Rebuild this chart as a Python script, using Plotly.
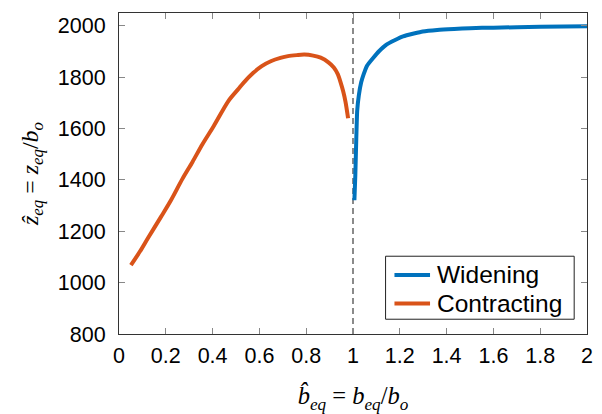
import plotly.graph_objects as go

# Contracting branch
contr_x = [0.051, 0.09, 0.124, 0.18, 0.222, 0.271, 0.314, 0.356, 0.405, 0.468,
           0.511, 0.532, 0.574, 0.61, 0.651, 0.69, 0.722, 0.76, 0.792, 0.83, 0.862,
           0.895, 0.918, 0.935, 0.947, 0.958, 0.968, 0.979]
contr_y = [1068, 1122, 1174, 1257, 1321, 1404, 1470, 1538, 1610, 1708,
           1755, 1778, 1817, 1843, 1863, 1875, 1882, 1886, 1888, 1884, 1876,
           1858, 1838, 1812, 1780, 1745, 1704, 1640]

# Widening branch
wide_x = [1.006, 1.010, 1.014, 1.018, 1.025, 1.035, 1.045, 1.06, 1.087, 1.11,
          1.143, 1.18, 1.214, 1.26, 1.298, 1.36, 1.432, 1.5, 1.6, 1.8, 2.0]
wide_y = [1321, 1420, 1560, 1670, 1730, 1780, 1810, 1845, 1876, 1900,
          1927, 1945, 1959, 1970, 1978, 1984, 1988, 1991, 1993, 1996, 1998]

x_ticks = [0, 0.2, 0.4, 0.6, 0.8, 1, 1.2, 1.4, 1.6, 1.8, 2]
x_ticklabels = ["0", "0.2", "0.4", "0.6", "0.8", "1", "1.2", "1.4", "1.6", "1.8", "2"]
y_ticks = [800, 1000, 1200, 1400, 1600, 1800, 2000]

series_names = ["Widening", "Contracting"]
series_colors = ["#0072BD", "#D95319"]

fig = go.Figure()
fig.add_trace(go.Scatter(x=wide_x, y=wide_y, mode="lines", name=series_names[0],
                         line=dict(color=series_colors[0], width=4, shape="spline", smoothing=0.5)))
fig.add_trace(go.Scatter(x=contr_x, y=contr_y, mode="lines", name=series_names[1],
                         line=dict(color=series_colors[1], width=4, shape="spline", smoothing=0.8)))

fig.add_shape(type="line", x0=1, x1=1, y0=0, y1=1, xref="x", yref="paper",
              line=dict(color="#8a8a8a", width=2, dash="6px,4px"), layer="below")

# Legend box (drawn manually to match the reference's proportions)
fig.add_shape(type="rect", xref="paper", yref="paper", x0=0.5696, x1=0.9726, y0=0.046, y1=0.2423,
              line=dict(color="#222", width=1), fillcolor="white", layer="above")
leg_rows = [0.184, 0.0951]
for name, color, yy in zip(series_names, series_colors, leg_rows):
    fig.add_shape(type="line", xref="paper", yref="paper", x0=0.5886, x1=0.6646, y0=yy, y1=yy,
                  line=dict(color=color, width=4), layer="above")
    fig.add_annotation(xref="paper", yref="paper", x=0.675, y=yy, text=name, showarrow=False,
                       xanchor="left", yanchor="middle",
                       font=dict(family="Liberation Sans, Arial", size=24.5, color="#000"))

axis_common = dict(showgrid=False, zeroline=False, showline=True, linecolor="#333",
                   linewidth=1, mirror="allticks", ticks="inside", ticklen=6,
                   tickcolor="#888", tickwidth=1,
                   tickfont=dict(family="Liberation Sans, Arial", size=21.5, color="#000"))

fig.update_layout(
    width=602, height=414,
    margin=dict(l=119, r=9, t=13, b=75),
    paper_bgcolor="white", plot_bgcolor="white",
    xaxis=dict(range=[0, 2], tickvals=x_ticks, ticktext=x_ticklabels,
               ticklabelstandoff=2,
               title=dict(text="<i>b̂<sub>eq</sub></i> = <i>b<sub>eq</sub></i>/<i>b<sub>o</sub></i>",
                          font=dict(family="Liberation Serif, DejaVu Serif", size=24.5, color="#000"),
                          standoff=20),
               **axis_common),
    yaxis=dict(range=[800, 2050], tickvals=y_ticks, ticklabelstandoff=8,
               title=dict(text="<i>ẑ<sub>eq</sub></i> = <i>z<sub>eq</sub></i>/<i>b<sub>o</sub></i>",
                          font=dict(family="Liberation Serif, DejaVu Serif", size=24, color="#000"),
                          standoff=12),
               **axis_common),
    showlegend=False,
)

fig.write_html("out.html")
